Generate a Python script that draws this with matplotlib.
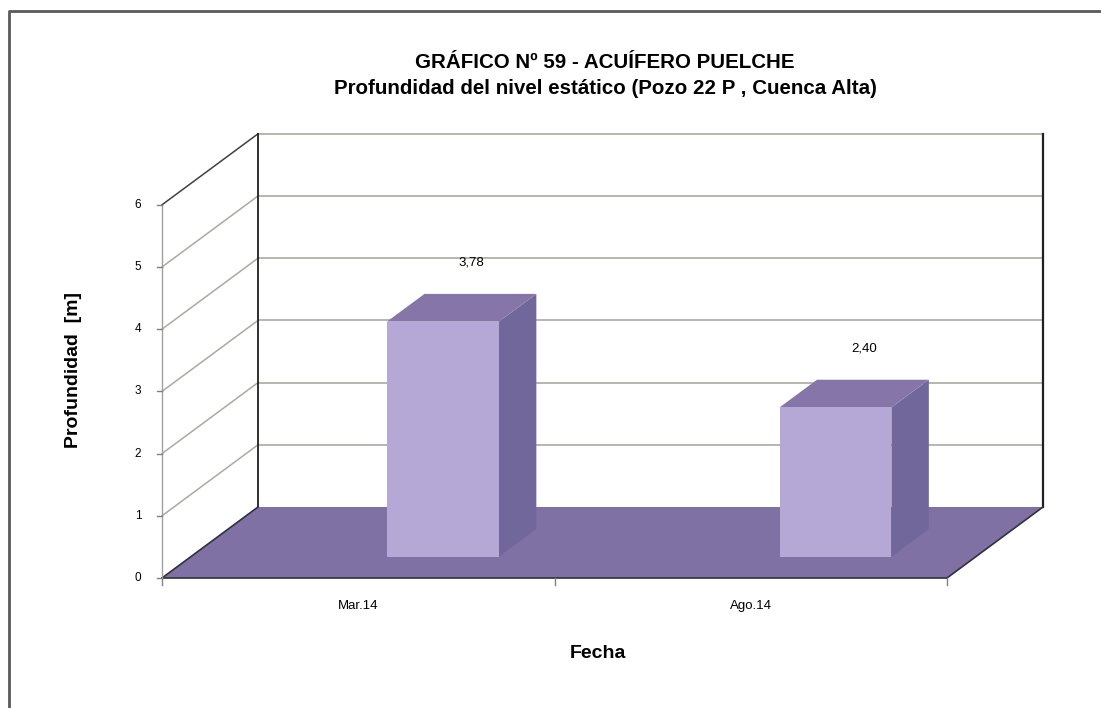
import matplotlib
matplotlib.use("Agg")
import matplotlib.pyplot as plt
from matplotlib.patches import Polygon

plt.rcParams['font.family'] = ['Liberation Sans', 'DejaVu Sans']

# datos
fechas = ['Mar.14', 'Ago.14']
profundidad = [3.78, 2.40]
etiquetas = ['3,78', '2,40']
ticks_y = [0, 1, 2, 3, 4, 5, 6]

# proyeccion oblicua (en pixeles de la figura)
X0, Y0 = 162, 578          # origen frontal
ANCHO_CAT = 392.5          # px por categoria
PX_UNIDAD = 62.2           # px por metro
DX, DY = 96, 71            # desplazamiento de profundidad
YMAX = 6


def proj(u, v, d):
    return (X0 + u * ANCHO_CAT + d * DX, Y0 - v * PX_UNIDAD - d * DY)


fig = plt.figure(figsize=(11.01, 7.08), dpi=100)
ax = fig.add_axes([0, 0, 1, 1])
ax.set_xlim(0, 1101)
ax.set_ylim(708, 0)
ax.axis('off')

n = len(fechas)

# pared del fondo
pared = [proj(0, 0, 1), proj(n, 0, 1), proj(n, YMAX, 1), proj(0, YMAX, 1)]
ax.add_patch(Polygon(pared, closed=True, facecolor='white', edgecolor='none', zorder=1))
for t in ticks_y[1:]:
    xa, ya = proj(0, t, 1)
    xb, yb = proj(n, t, 1)
    ax.plot([xa, xb], [ya, yb], color='#aaaaa2', lw=1.2, zorder=2)
    # lineas de la pared lateral
    xc, yc = proj(0, t, 0)
    col = '#404040' if t == YMAX else '#aaaaa2'
    ax.plot([xc, xa], [yc, ya], color=col, lw=1.1, zorder=2)

# bordes de la pared
xa, ya = proj(0, 0, 1)
xb, yb = proj(0, YMAX, 1)
ax.plot([xa, xb], [ya, yb], color='#202020', lw=1.3, zorder=3)
xa, ya = proj(n, 0, 1)
xb, yb = proj(n, YMAX, 1)
ax.plot([xa, xb], [ya, yb], color='#202020', lw=1.6, zorder=3)

# piso
piso = [proj(0, 0, 0), proj(n, 0, 0), proj(n, 0, 1), proj(0, 0, 1)]
ax.add_patch(Polygon(piso, closed=True, facecolor='#8071a4', edgecolor='none', zorder=3))
for a, b in [((0, 0, 0), (n, 0, 0)), ((n, 0, 0), (n, 0, 1)), ((0, 0, 0), (0, 0, 1))]:
    p, q = proj(*a), proj(*b)
    ax.plot([p[0], q[0]], [p[1], q[1]], color='#303040', lw=1.2, zorder=4)

# eje vertical frontal
xa, ya = proj(0, 0, 0)
xb, yb = proj(0, YMAX, 0)
ax.plot([xa, xb], [ya, yb], color='#a0a0a0', lw=1.0, zorder=4)
for t in ticks_y:
    x, y = proj(0, t, 0)
    ax.plot([x - 5, x], [y, y], color='#808080', lw=1.0, zorder=4)
    ax.text(x - 24, y, str(t), ha='center', va='center', fontsize=8.5, color='black')

# ticks de categoria
for i in range(n + 1):
    x, y = proj(i, 0, 0)
    ax.plot([x, x], [y, y + 7], color='#808080', lw=1.0, zorder=4)
for i, f in enumerate(fechas):
    x, y = proj(i + 0.5, 0, 0)
    ax.text(x, y + 28, f, ha='center', va='center', fontsize=9.5, color='black')

# barras
d1, d2 = 0.30, 0.69
ancho = 0.285
for i, v in enumerate(profundidad):
    u1 = i + 0.5
    u2 = u1 + ancho
    frente = [proj(u1, 0, d1), proj(u2, 0, d1), proj(u2, v, d1), proj(u1, v, d1)]
    lado = [proj(u2, 0, d1), proj(u2, 0, d2), proj(u2, v, d2), proj(u2, v, d1)]
    techo = [proj(u1, v, d1), proj(u2, v, d1), proj(u2, v, d2), proj(u1, v, d2)]
    ax.add_patch(Polygon(lado, closed=True, facecolor='#72679a', edgecolor='none', zorder=5))
    ax.add_patch(Polygon(techo, closed=True, facecolor='#8675a8', edgecolor='none', zorder=5))
    ax.add_patch(Polygon(frente, closed=True, facecolor='#b6a8d6', edgecolor='none', zorder=6))
    x, y = proj(u1 + 0.12, v + 0.5, d2)
    ax.text(x, y, etiquetas[i], ha='center', va='center', fontsize=9.5, color='black', zorder=7)

# titulos
ax.text(605, 62, 'GRÁFICO Nº 59 - ACUÍFERO PUELCHE', ha='center', va='center',
        fontsize=14.8, fontweight='bold')
ax.text(605, 88, 'Profundidad del nivel estático (Pozo 22 P , Cuenca Alta)', ha='center',
        va='center', fontsize=14.8, fontweight='bold')
ax.text(598, 654, 'Fecha', ha='center', va='center', fontsize=14, fontweight='bold')
ax.text(73, 370, 'Profundidad  [m]', ha='center', va='center', rotation=90,
        fontsize=14, fontweight='bold')

# marco
ax.plot([9, 9, 1101], [708, 11, 11], color='#5a5a5a', lw=2, zorder=8)

fig.savefig('out.png', dpi=100)
